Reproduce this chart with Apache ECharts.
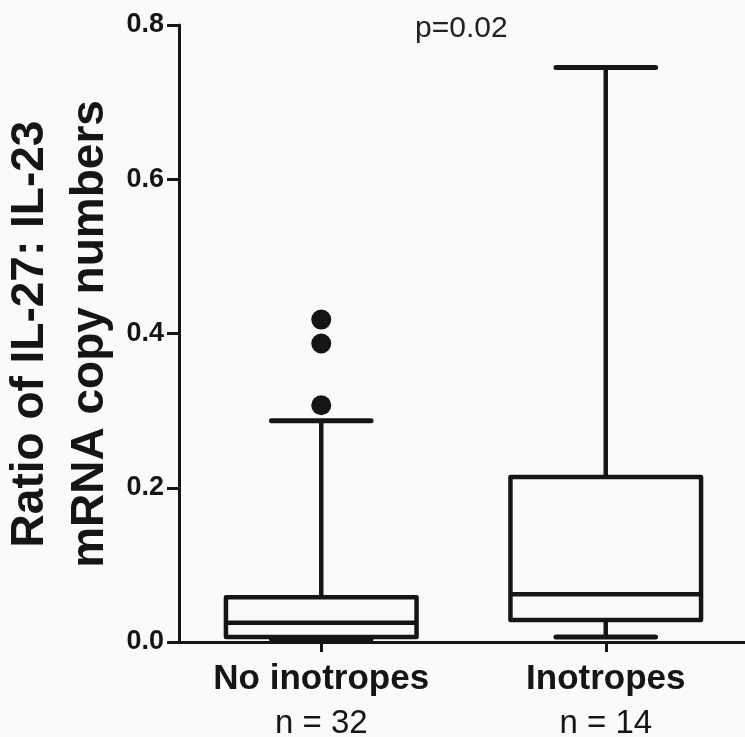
<!DOCTYPE html>
<html>
<head>
<meta charset="utf-8">
<script src="https://cdn.jsdelivr.net/npm/echarts@6/dist/echarts.min.js"></script>
<style>
  html, body { margin: 0; padding: 0; background: #fafafa; }
  #chart { width: 745px; height: 737px; }
</style>
</head>
<body>
<div id="chart"></div>
<script>
// Groups and sample sizes
const groups = ['No inotropes', 'Inotropes'];
const groupN = [32, 14];

// Five-number summaries per group: [min, Q1, median, Q3, max]
const boxStats = [
  [0.004, 0.0065, 0.025, 0.058, 0.287],
  [0.0065, 0.0285, 0.062, 0.214, 0.745]
];

// Outlying observations: [group index, value]
const outliers = [
  [0, 0.418],
  [0, 0.387],
  [0, 0.307]
];

// Y-axis ticks
const yTicks = { min: 0, max: 0.8, step: 0.2 };

const yTitleLines = ['Ratio of IL-27: IL-23', 'mRNA copy numbers'];
const pValueText = 'p=0.02';

const FONT = '"Liberation Sans", Arial, Helvetica, sans-serif';
const INK = '#151515';

const chart = echarts.init(document.getElementById('chart'));

// Box-and-whisker glyph with caps narrower than the box
function renderBox(params, api) {
  const idx = api.value(0);
  const lo = api.value(1), q1 = api.value(2), med = api.value(3),
        q3 = api.value(4), hi = api.value(5);
  const band = api.size([1, 0])[0];
  const boxHalf = band * 0.335;
  const capHalf = band * 0.175;
  const pLo = api.coord([idx, lo]);
  const pQ1 = api.coord([idx, q1]);
  const pMed = api.coord([idx, med]);
  const pQ3 = api.coord([idx, q3]);
  const pHi = api.coord([idx, hi]);
  const cx = pMed[0];
  const lineStyle = { stroke: INK, lineWidth: 4.5, fill: null, lineCap: 'butt' };
  const capStyle = { stroke: INK, lineWidth: 5, lineCap: 'round' };
  return {
    type: 'group',
    children: [
      { type: 'line', shape: { x1: cx, y1: pQ3[1], x2: cx, y2: pHi[1] }, style: lineStyle },
      { type: 'line', shape: { x1: cx, y1: pQ1[1], x2: cx, y2: pLo[1] }, style: lineStyle },
      { type: 'line', shape: { x1: cx - capHalf, y1: pHi[1], x2: cx + capHalf, y2: pHi[1] }, style: capStyle },
      { type: 'line', shape: { x1: cx - capHalf, y1: pLo[1], x2: cx + capHalf, y2: pLo[1] }, style: capStyle },
      { type: 'rect', shape: { x: cx - boxHalf, y: pQ3[1], width: boxHalf * 2, height: pQ1[1] - pQ3[1] },
        style: { stroke: INK, lineWidth: 4.5, fill: 'rgba(0,0,0,0)', lineJoin: 'round' } },
      { type: 'line', shape: { x1: cx - boxHalf, y1: pMed[1], x2: cx + boxHalf, y2: pMed[1] }, style: lineStyle }
    ]
  };
}

chart.setOption({
  backgroundColor: '#fafafa',
  animation: false,
  grid: { left: 179, right: -3, top: 25, bottom: 95, containLabel: false, outerBoundsMode: 'none' },
  xAxis: {
    type: 'category',
    data: groups,
    boundaryGap: true,
    axisLine: { show: true, lineStyle: { color: INK, width: 3 } },
    axisTick: { show: true, alignWithLabel: true, length: 10, lineStyle: { color: INK, width: 3 } },
    axisLabel: {
      margin: 15,
      interval: 0,
      formatter: function (v, i) {
        return '{g|' + v + '}\n{n|n = ' + groupN[i] + '}';
      },
      rich: {
        g: { fontFamily: FONT, fontWeight: 'bold', fontSize: 35, color: INK, lineHeight: 44 },
        n: { fontFamily: FONT, fontWeight: 'normal', fontSize: 33, color: INK, lineHeight: 46 }
      }
    },
    splitLine: { show: false }
  },
  yAxis: {
    type: 'value',
    min: yTicks.min,
    max: yTicks.max,
    interval: yTicks.step,
    axisLine: { show: true, lineStyle: { color: INK, width: 3 } },
    axisTick: { show: true, length: 12, lineStyle: { color: INK, width: 3 } },
    axisLabel: {
      margin: 15,
      fontFamily: FONT, fontWeight: 'bold', fontSize: 27, color: INK,
      formatter: function (v) { return v.toFixed(1); }
    },
    splitLine: { show: false }
  },
  graphic: [
    {
      // two-line vertical axis title, read bottom to top
      type: 'text',
      x: 60,
      y: 334,
      rotation: Math.PI / 2,
      style: {
        text: yTitleLines.join('\n'),
        font: 'bold 46px ' + FONT,
        fill: INK,
        align: 'center',
        verticalAlign: 'middle',
        lineHeight: 60
      }
    },
    {
      type: 'text',
      left: 415,
      top: 14,
      style: { text: pValueText, font: 'normal 30px ' + FONT, fill: '#222' }
    }
  ],
  series: [
    {
      type: 'custom',
      renderItem: renderBox,
      data: boxStats.map(function (s, i) { return [i].concat(s); }),
      encode: { x: 0, y: [1, 2, 3, 4, 5] },
      z: 3
    },
    {
      type: 'scatter',
      data: outliers,
      symbol: 'circle',
      symbolSize: 20,
      itemStyle: { color: INK, opacity: 1 },
      z: 4
    }
  ]
});
</script>
</body>
</html>
